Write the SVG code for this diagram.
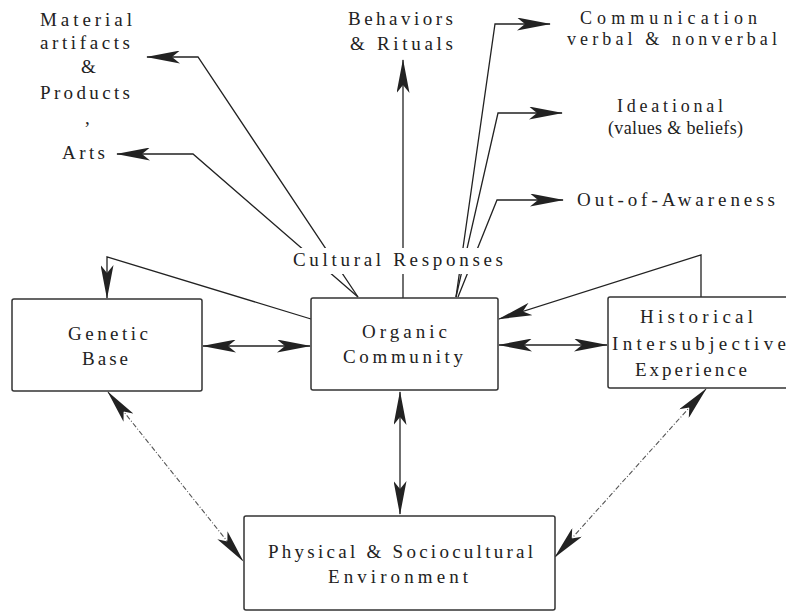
<svg xmlns="http://www.w3.org/2000/svg" width="786" height="612" viewBox="0 0 786 612">
<style>
  text { font-family: "Liberation Serif", "DejaVu Serif", serif; font-size: 19px; fill: #222; }
  .sm { font-size: 18px; }
  .box { fill: #fff; stroke: #333; stroke-width: 1.5; }
  .ln { fill: none; stroke: #222; stroke-width: 1.3; }
  .faint { fill: none; stroke: #555; stroke-width: 1.1; stroke-dasharray: 5 2 1 2; }
</style>
<defs>
  <marker id="ah" viewBox="0 0 34 13" refX="33" refY="6.5" markerWidth="34" markerHeight="13" markerUnits="userSpaceOnUse" orient="auto-start-reverse">
    <path d="M0,0 L34,6.5 L0,13 L8,6.5 Z" fill="#222"/>
  </marker>
</defs>
<rect width="786" height="612" fill="#fff"/>

<g id="connectors">
  <path class="ln" d="M358,297 L198,57 L147,57" marker-end="url(#ah)"/>
  <path class="ln" d="M358,297 L193,154 L117,154" marker-end="url(#ah)"/>
  <path class="ln" d="M403,298 L403,60" marker-end="url(#ah)"/>
  <path class="ln" d="M456,297 L495,24 L550,24" marker-end="url(#ah)"/>
  <path class="ln" d="M456,297 L498,113 L562,113" marker-end="url(#ah)"/>
  <path class="ln" d="M458,297 L497,200 L563,200" marker-end="url(#ah)"/>
  <path class="ln" d="M311,319 L107,257 L107,298" marker-end="url(#ah)"/>
  <path class="ln" d="M701,297 L701,255 L499,319" marker-end="url(#ah)"/>
  <line class="ln" x1="203" y1="346" x2="310" y2="346" marker-start="url(#ah)" marker-end="url(#ah)"/>
  <line class="ln" x1="499" y1="345" x2="607" y2="345" marker-start="url(#ah)" marker-end="url(#ah)"/>
  <line class="ln" x1="400" y1="392" x2="400" y2="514" marker-start="url(#ah)" marker-end="url(#ah)"/>
  <line class="faint" x1="108" y1="392" x2="243" y2="561" marker-start="url(#ah)" marker-end="url(#ah)"/>
  <line class="faint" x1="706" y1="389" x2="555" y2="557" marker-start="url(#ah)" marker-end="url(#ah)"/>
</g>

<g id="cultural-responses">
  <rect x="289" y="248" width="220" height="26" fill="#fff"/>
  <text x="293" y="266" textLength="210" lengthAdjust="spacing">Cultural Responses</text>
</g>

<g id="material-artifacts">
  <text x="40" y="26" textLength="92" lengthAdjust="spacing">Material</text>
  <text x="40" y="49" textLength="90" lengthAdjust="spacing">artifacts</text>
  <text x="81" y="73">&amp;</text>
  <text x="40" y="99" textLength="90" lengthAdjust="spacing">Products</text>
  <text x="85" y="124">,</text>
</g>
<g id="arts">
  <text x="62" y="159" textLength="43" lengthAdjust="spacing">Arts</text>
</g>
<g id="behaviors">
  <text x="348" y="25" textLength="105" lengthAdjust="spacing">Behaviors</text>
  <text x="350" y="50" textLength="103" lengthAdjust="spacing">&amp; Rituals</text>
</g>
<g id="communication">
  <text class="sm" x="580" y="24" textLength="177" lengthAdjust="spacing">Communication</text>
  <text class="sm" x="567" y="45" textLength="210" lengthAdjust="spacing">verbal &amp; nonverbal</text>
</g>
<g id="ideational">
  <text class="sm" x="617" y="112" textLength="106" lengthAdjust="spacing">Ideational</text>
  <text class="sm" x="608" y="134" textLength="135" lengthAdjust="spacing">(values &amp; beliefs)</text>
</g>
<g id="out-of-awareness">
  <text x="577" y="206" textLength="198" lengthAdjust="spacing">Out-of-Awareness</text>
</g>

<g id="genetic-base">
  <rect class="box" x="12" y="299" width="190" height="92" rx="2"/>
  <text x="68" y="340" textLength="80" lengthAdjust="spacing">Genetic</text>
  <text x="82" y="365" textLength="46" lengthAdjust="spacing">Base</text>
</g>
<g id="organic-community">
  <rect class="box" x="311" y="298" width="187" height="92" rx="2"/>
  <text x="362" y="338" textLength="85" lengthAdjust="spacing">Organic</text>
  <text x="343" y="363" textLength="120" lengthAdjust="spacing">Community</text>
</g>
<g id="historical">
  <rect class="box" x="608" y="297" width="190" height="91" rx="2"/>
  <text x="640" y="323" textLength="113" lengthAdjust="spacing">Historical</text>
  <text x="612" y="350" textLength="174" lengthAdjust="spacing">Intersubjective</text>
  <text x="635" y="376" textLength="112" lengthAdjust="spacing">Experience</text>
</g>
<g id="environment">
  <rect class="box" x="244" y="516" width="311" height="94" rx="2"/>
  <text x="268" y="558" textLength="265" lengthAdjust="spacing">Physical &amp; Sociocultural</text>
  <text x="328" y="583" textLength="140" lengthAdjust="spacing">Environment</text>
</g>
</svg>
